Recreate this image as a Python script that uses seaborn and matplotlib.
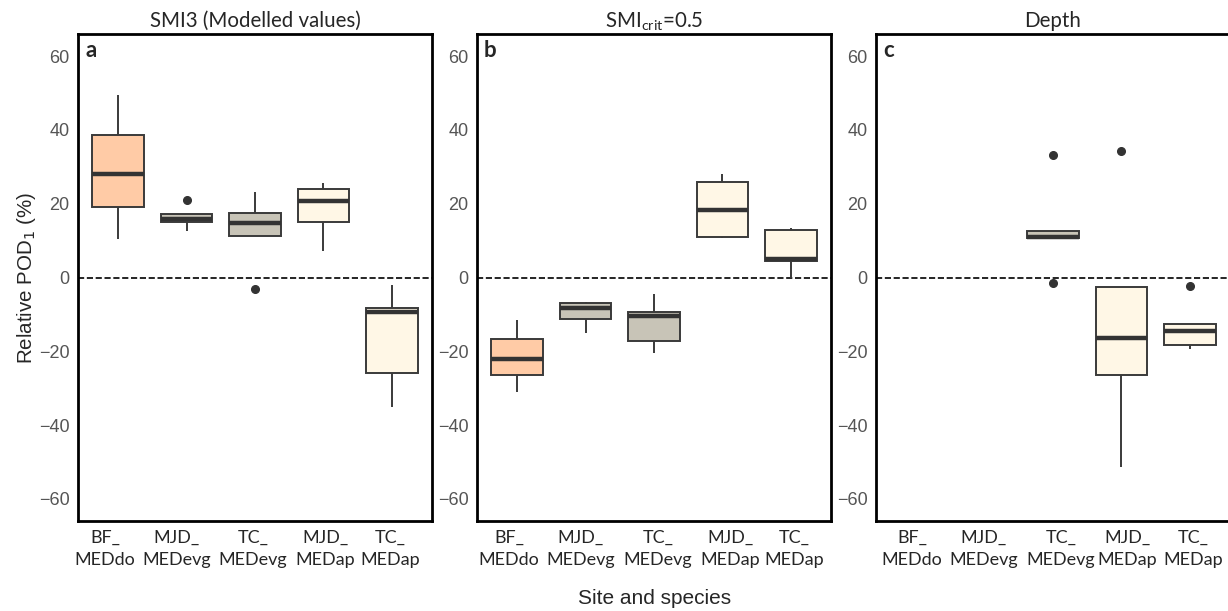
import pandas as pd
import matplotlib.pyplot as plt
import matplotlib.transforms as mtransforms
import seaborn as sns

categories = ["BF_\nMEDdo", "MJD_\nMEDevg", "TC_\nMEDevg", "MJD_\nMEDap", "TC_\nMEDap"]
box_colors = ["#FFCBA6", "#C8C4B7", "#C8C4B7", "#FFF7E6", "#FFF7E6"]

# yearly relative POD1 values (%) per site/species
smi3_values = [
    [10.3, 19.0, 28.1, 38.7, 49.5],
    [12.7, 15.1, 15.8, 17.3, 21.0],
    [-3.0, 11.2, 14.7, 17.6, 23.2],
    [7.3, 15.1, 20.7, 23.9, 25.7],
    [-35.2, -25.9, -9.3, -8.4, -1.9],
]
smi_crit_values = [
    [-31.0, -26.5, -22.1, -16.8, -11.6],
    [-15.0, -11.3, -8.3, -6.8, -6.6],
    [-20.4, -17.1, -10.3, -9.3, -4.6],
    [10.7, 10.9, 18.2, 26.0, 28.0],
    [0.0, 4.5, 5.0, 12.8, 13.3],
]
depth_values = [
    [],
    [],
    [-1.5, 10.7, 11.1, 12.6, 33.1],
    [-51.3, -26.5, -16.5, -2.5, 34.2],
    [-19.3, -18.4, -14.5, -12.5, -2.3],
]

panels = [
    ("SMI3 (Modelled values)", "a", smi3_values),
    ("SMI$_{\\mathregular{crit}}$=0.5", "b", smi_crit_values),
    ("Depth", "c", depth_values),
]


def to_long(values):
    rows = []
    for cat, vals in zip(categories, values):
        for v in vals:
            rows.append({"site": cat, "pod": v})
    return pd.DataFrame(rows)


sns.set_style("white")
plt.rcParams["font.family"] = ["Liberation Sans", "DejaVu Sans"]

fig = plt.figure(figsize=(12.28, 6.11), dpi=100)
lefts = [78, 477, 876]
# small horizontal nudges (px) of the category labels, as in the original
label_shifts = [[-13, -10, -2, 2, -2], [-8, -5, 4, 8, 3], [-4, -1, 8, 6, 3]]
palette = dict(zip(categories, box_colors))

for (title, letter, values), left, shifts in zip(panels, lefts, label_shifts):
    ax = fig.add_axes([left / 1228, 90 / 611, 354 / 1228, 487 / 611])
    df = to_long(values)
    ax.axhline(0, ls="--", color="black", lw=1.2, zorder=0)
    sns.boxplot(data=df, x="site", y="pod", hue="site", order=categories,
                hue_order=categories, palette=palette, legend=False,
                saturation=1, width=0.75, linewidth=1.4, linecolor="#3a3a3a",
                showcaps=False,
                medianprops={"linewidth": 3.2, "color": "#333333"},
                flierprops={"marker": "o", "markersize": 5.5,
                            "markerfacecolor": "#333333",
                            "markeredgecolor": "#333333"},
                ax=ax)
    ax.set_xlim(-0.585, 4.585)
    ax.set_ylim(-66, 66)
    ax.set_yticks([-60, -40, -20, 0, 20, 40, 60])
    ax.set_xlabel("")
    ax.set_ylabel("")
    ax.tick_params(axis="y", labelsize=13, labelcolor="#555555", length=0, pad=6)
    ax.tick_params(axis="x", length=0, pad=6)
    ax.set_xticks(range(len(categories)))
    ax.set_xticklabels(categories, fontfamily="Lato", fontsize=13, linespacing=1.5)
    for lab, dx in zip(ax.get_xticklabels(), shifts):
        lab.set_transform(lab.get_transform() +
                          mtransforms.ScaledTranslation(dx / 100, 0, fig.dpi_scale_trans))
    ax.set_title(title, fontfamily="Lato", fontsize=14.8, pad=5)
    for sp in ax.spines.values():
        sp.set_color("black")
        sp.set_linewidth(2)
    ax.text(0.02, 0.988, letter, transform=ax.transAxes, fontfamily="Lato",
            fontweight="bold", fontsize=16, va="top", ha="left")

fig.text(27 / 1228, 0.545, "Relative POD$_1$ (%)", rotation=90, ha="center",
         va="center", fontsize=14.8)
fig.text(655 / 1228, 13 / 611, "Site and species", ha="center", va="center",
         fontsize=15)

fig.savefig("out.png", dpi=100)
